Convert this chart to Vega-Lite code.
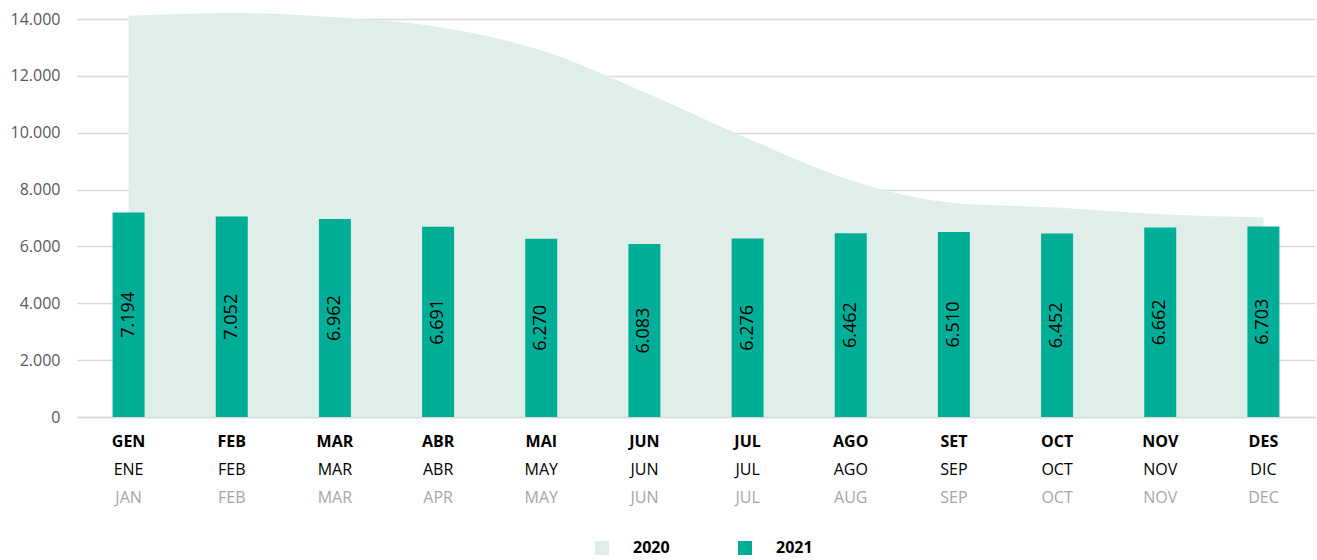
{
  "$schema": "https://vega.github.io/schema/vega-lite/v6.json",
  "width": 1238,
  "height": 398,
  "autosize": {"type": "none"},
  "padding": {"left": 77, "top": 19, "right": 2, "bottom": 143},
  "background": "white",
  "config": {"view": {"stroke": null}, "font": "Open Sans"},
  "data": {
    "values": [
      {"mes": "GEN", "v2020": 14110, "v2021": 7194},
      {"mes": "FEB", "v2020": 14210, "v2021": 7052},
      {"mes": "MAR", "v2020": 14060, "v2021": 6962},
      {"mes": "ABR", "v2020": 13720, "v2021": 6691},
      {"mes": "MAI", "v2020": 12900, "v2021": 6270},
      {"mes": "JUN", "v2020": 11420, "v2021": 6083},
      {"mes": "JUL", "v2020": 9800, "v2021": 6276},
      {"mes": "AGO", "v2020": 8330, "v2021": 6462},
      {"mes": "SET", "v2020": 7530, "v2021": 6510},
      {"mes": "OCT", "v2020": 7370, "v2021": 6452},
      {"mes": "NOV", "v2020": 7130, "v2021": 6662},
      {"mes": "DES", "v2020": 7020, "v2021": 6703}
    ]
  },
  "resolve": {"axis": {"x": "independent"}},
  "layer": [
    {
      "mark": {"type": "area", "interpolate": "monotone", "clip": false},
      "encoding": {
        "x": {
          "field": "mes", "type": "nominal", "sort": null,
          "scale": {"paddingInner": 0, "paddingOuter": 0},
          "axis": {
            "orient": "bottom",
            "title": null, "ticks": false, "domain": true, "domainColor": "#d9d9d9", "domainWidth": 1.5,
            "labelAngle": 0, "labelFontSize": 16, "labelColor": "#000000", "labelPadding": 44,
            "labelExpr": "['ENE','FEB','MAR','ABR','MAY','JUN','JUL','AGO','SEP','OCT','NOV','DIC'][indexof(['GEN','FEB','MAR','ABR','MAI','JUN','JUL','AGO','SET','OCT','NOV','DES'], datum.value)]"
          }
        },
        "y": {
          "field": "v2020", "type": "quantitative",
          "scale": {"domain": [0, 14000], "nice": false},
          "axis": {
            "title": null, "values": [0, 2000, 4000, 6000, 8000, 10000, 12000, 14000],
            "labelExpr": "replace(format(datum.value, ','), ',', '.')",
            "labelFontSize": 16, "labelColor": "#595959", "labelPadding": 17,
            "ticks": false, "domain": false, "gridColor": "#d9d9d9", "gridWidth": 1.5
          }
        },
        "color": {
          "datum": "2020",
          "scale": {"domain": ["2020", "2021"], "range": ["#dfeee9", "#00ae98"]},
          "legend": {
            "title": null, "orient": "none", "legendX": 517, "legendY": 521,
            "direction": "horizontal", "symbolType": "square", "symbolSize": 196,
            "symbolStrokeWidth": 0, "symbolOpacity": 1,
            "labelFontSize": 16, "labelFontWeight": "bold", "labelColor": "#000000",
            "labelOffset": 23, "columnPadding": 67, "padding": 0
          }
        }
      }
    },
    {
      "mark": {"type": "bar", "size": 32},
      "encoding": {
        "x": {
          "field": "mes", "type": "nominal", "sort": null,
          "axis": {
            "orient": "bottom",
            "title": null, "ticks": false, "domain": false,
            "labelAngle": 0, "labelFontSize": 16, "labelFontWeight": "bold", "labelColor": "#000000", "labelPadding": 16
          }
        },
        "y": {"field": "v2021", "type": "quantitative", "title": null},
        "color": {"datum": "2021"}
      }
    },
    {
      "transform": [
        {"calculate": "datum.v2021 / 2", "as": "mid"},
        {"calculate": "replace(format(datum.v2021, ','), ',', '.')", "as": "lbl"}
      ],
      "mark": {"type": "text", "angle": 270, "fontSize": 18, "color": "#000000", "align": "center", "baseline": "middle"},
      "encoding": {
        "x": {
          "field": "mes", "type": "nominal", "sort": null,
          "axis": {
            "orient": "bottom",
            "title": null, "ticks": false, "domain": false,
            "labelAngle": 0, "labelFontSize": 16, "labelColor": "#a6a6a6", "labelPadding": 72,
            "labelExpr": "['JAN','FEB','MAR','APR','MAY','JUN','JUL','AUG','SEP','OCT','NOV','DEC'][indexof(['GEN','FEB','MAR','ABR','MAI','JUN','JUL','AGO','SET','OCT','NOV','DES'], datum.value)]"
          }
        },
        "y": {"field": "mid", "type": "quantitative", "title": null},
        "text": {"field": "lbl"}
      }
    }
  ]
}
